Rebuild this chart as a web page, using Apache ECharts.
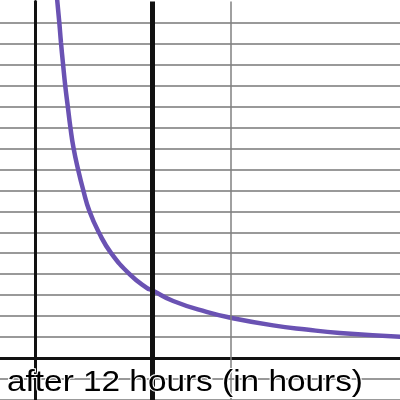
<!DOCTYPE html>
<html>
<head>
<meta charset="utf-8">
<script src="https://cdn.jsdelivr.net/npm/echarts@6/dist/echarts.min.js"></script>
<style>
  html, body { margin: 0; padding: 0; background: #fff; }
  #chart { width: 400px; height: 400px; }
</style>
</head>
<body>
<div id="chart"></div>
<script>
// curve (hours, amount in grid units)
const hours = [2.2, 2.48, 2.65, 2.86, 3.09, 3.34, 3.62, 3.93, 4.4, 4.9, 5.55, 6.55, 7.75, 9.7, 11.4, 12.0, 14.1, 17.5, 20.0, 24.3, 27.7, 31.1, 37.3]
const amount = [17.4, 16.0, 15.05, 14.03, 12.97, 12.02, 10.97, 10.02, 8.99, 8.05, 7.01, 5.96, 5.02, 3.98, 3.35, 3.22, 2.72, 2.2, 1.92, 1.56, 1.36, 1.2, 1.02]
// vertical reference lines (hours)
const markerHours = [12, 20]
const xLabel = 'after 12 hours (in hours)'

const chart = echarts.init(document.getElementById('chart'), null, { renderer: 'canvas' })

chart.setOption({
  animation: false,
  backgroundColor: '#fff',
  grid: {
    left: 0,
    right: 0,
    top: 1.6,
    bottom: -2.95
  },
  xAxis: {
    type: 'value',
    min: -3.571,
    max: 37.245,
    axisLine: { show: true, onZero: true, lineStyle: { color: '#111', width: 3 } },
    axisTick: { show: false },
    axisLabel: { show: false },
    splitLine: { show: false }
  },
  yAxis: {
    type: 'value',
    min: -2,
    max: 17,
    interval: 1,
    axisLine: { show: true, onZero: true, lineStyle: { color: '#111', width: 3 } },
    axisTick: { show: false },
    axisLabel: { show: false },
    splitLine: {
      show: true,
      showMaxLine: false,
      lineStyle: { color: '#999', width: 2 }
    }
  },
  series: [{
    type: 'line',
    data: hours.map((h, i) => [h, amount[i]]),
    smooth: 0.5,
    showSymbol: false,
    lineStyle: { color: '#6a52b3', width: 4.5 },
    z: 2
  }, {
    type: 'line',
    data: [],
    z: 3,
    markLine: {
      silent: true,
      symbol: 'none',
      label: { show: false },
      animation: false,
      data: [
        { xAxis: markerHours[0], lineStyle: { color: '#111', width: 5, type: 'solid' } },
        { xAxis: markerHours[1], lineStyle: { color: '#808080', width: 1.5, type: 'solid' } }
      ]
    }
  }],
  graphic: [{
    type: 'text',
    x: 7,
    y: 383,
    scaleX: 1.15,
    z: 10,
    style: {
      text: xLabel,
      font: '29px "Liberation Sans"',
      fill: '#000',
      stroke: '#fff',
      lineWidth: 2,
      align: 'left',
      verticalAlign: 'middle'
    }
  }]
})
</script>
</body>
</html>
